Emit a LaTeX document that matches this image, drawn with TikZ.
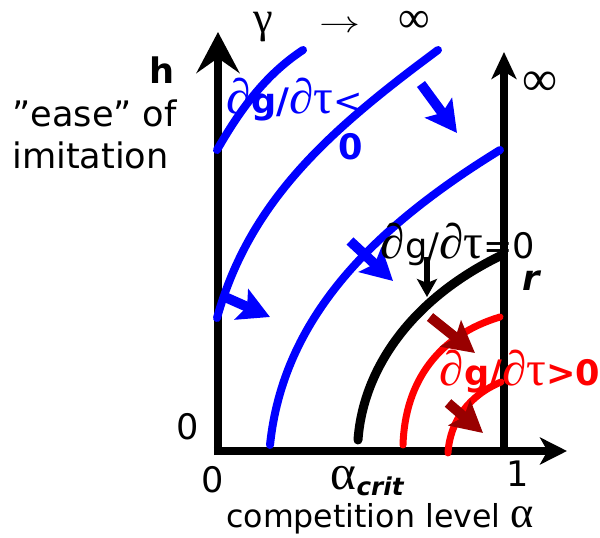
\documentclass[tikz,border=0pt]{standalone}
\usepackage{fontspec}
\setmainfont{DejaVu Sans}
\newfontfamily\grk[Scale=1.4]{Liberation Serif}
\usetikzlibrary{arrows.meta}
\definecolor{darkred}{RGB}{153,0,0}
\newcommand{\pd}{{\grk ∂}}
\newcommand{\tu}{{\grk τ}}

\begin{document}
\begin{tikzpicture}[x=0.02cm, y=-0.02cm, every node/.style={font=\fontsize{20}{24}\selectfont, inner sep=0pt},
    axis/.style={line width=0.16cm},
    curve/.style={line width=0.16cm, line cap=round},
    flow/.style={line width=0.2cm, -{Stealth[length=0.62cm, width=0.66cm, inset=0.12cm]}}]
    \useasboundingbox (0,0) rectangle (600,538);

    % Axes
    \draw[axis, -{Stealth[length=0.82cm, width=0.86cm, inset=0.3cm]}] (218,455) -- (218,32);
    \draw[axis, -{Stealth[length=0.54cm, width=0.5cm, inset=0.15cm]}] (504,455) -- (504,52);
    \draw[axis, -{Stealth[length=0.54cm, width=0.54cm, inset=0.15cm]}] (214,451) -- (567,451);

    % Axis labels
    \node (h) at (162,70) {\textbf{h}};
    \node[align=left, anchor=west] (ease) at (12,134) {”ease” of\\imitation};
    \node[anchor=base, font=\fontsize{18}{22}\selectfont] (gamma) at (342,32) {\grk γ\hspace{1.05em}\scalebox{1.35}[1]{$\rightarrow$}\hspace{0.85em}∞};
    \node (inf) at (540,84) {\grk ∞};
    \node (r) at (532,281) {\textbf{\textit{r}}};
    \node (zeroh) at (188,427) {0};
    \node (zeroa) at (213,480) {0};
    \node (acrit) at (368,481) {{\grk α}\textsubscript{\textbf{\textit{crit}}}};
    \node (one) at (518,474) {1};
    \node[font=\fontsize{18}{22}\selectfont] (alpha) at (380,519) {competition level {\grk α}};

    % Isoclines
    \draw[curve, blue] (217,150) .. controls (240,110) and (265,75) .. (303,50);
    \draw[curve, blue] (217,318) .. controls (250,200) and (330,130) .. (438,50);
    \draw[curve, blue] (270,445) .. controls (283,320) and (370,230) .. (500,150);
    \draw[curve, black, line width=0.18cm] (358,440) .. controls (363,370) and (410,300) .. (500,256);
    \draw[curve, red, line width=0.14cm] (403,445) .. controls (405,380) and (440,335) .. (500,317);
    \draw[curve, red, line width=0.14cm] (448,453) .. controls (450,420) and (470,395) .. (501,382);

    % Flow arrows
    \coordinate (b1s) at (421,84);  \coordinate (b1e) at (457,133);
    \coordinate (b2s) at (225,297); \coordinate (b2e) at (270,317);
    \coordinate (b3s) at (350,241); \coordinate (b3e) at (393,281);
    \coordinate (k1s) at (427,257); \coordinate (k1e) at (427,297);
    \coordinate (d1s) at (430,317); \coordinate (d1e) at (475,353);
    \coordinate (d2s) at (448,403); \coordinate (d2e) at (483,433);
    \draw[flow, blue] (b1s) -- (b1e);
    \draw[flow, blue] (b2s) -- (b2e);
    \draw[flow, blue] (b3s) -- (b3e);
    \draw[line width=0.12cm, black, -{Stealth[length=0.36cm, width=0.4cm, inset=0.08cm]}] (k1s) -- (k1e);
    \draw[flow, darkred] (d1s) -- (d1e);
    \draw[flow, darkred] (d2s) -- (d2e);

    % Isocline labels
    \node[align=right, anchor=north east, text=blue] (neg) at (363,78) {\pd\textbf{g/}\pd\tu<\\[2pt]\textbf{0}};
    \node (zero) at (458,244) {\pd g/\pd\tu=0};
    \node[text=red] (pos) at (520,372) {\pd\textbf{g/}\pd\tu\textbf{>0}};
\end{tikzpicture}
\end{document}
